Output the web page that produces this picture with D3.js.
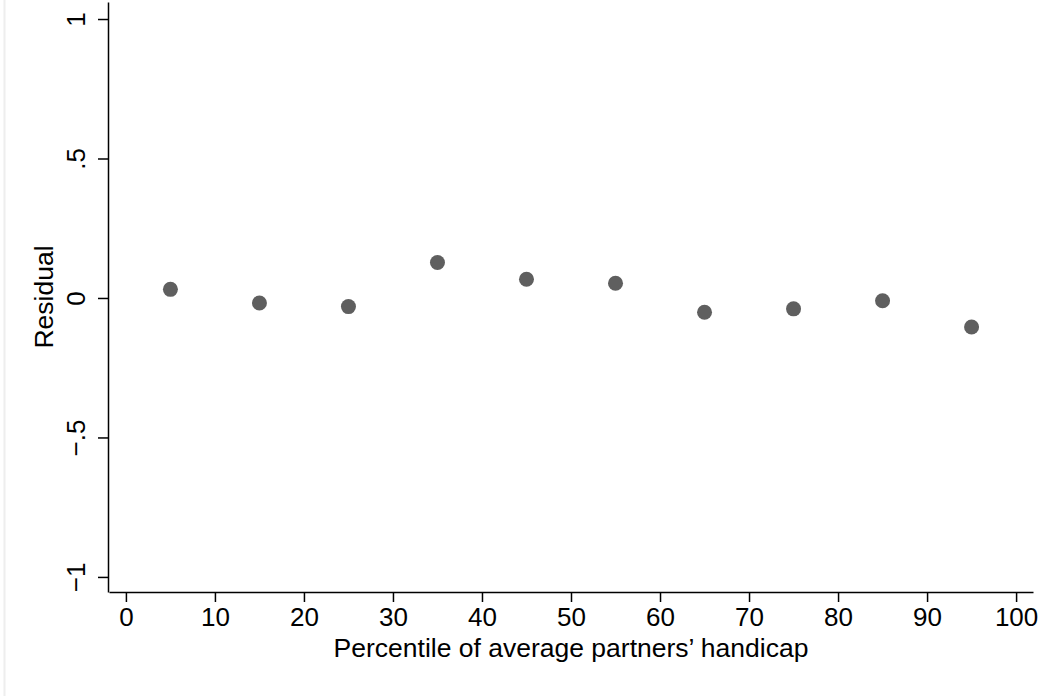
<!DOCTYPE html>
<html>
<head>
<meta charset="utf-8">
<script src="https://cdn.jsdelivr.net/npm/d3@7"></script>
<style>
  body { margin: 0; background: #ffffff; }
  svg { display: block; font-family: "Liberation Sans", Arial, sans-serif; }
</style>
</head>
<body>
<div id="chart"></div>
<script>
// Data
var percentiles = [5, 15, 25, 35, 45, 55, 65, 75, 85, 95];
var residuals = [0.031, -0.018, -0.031, 0.127, 0.067, 0.053, -0.051, -0.039, -0.010, -0.104];
var xTicks = [0, 10, 20, 30, 40, 50, 60, 70, 80, 90, 100];
var yTicks = [-1, -0.5, 0, 0.5, 1];
var yTickLabels = ["\u22121", "\u2212.5", "0", ".5", "1"];

function chartResidual_Draw(ele) {
    ele = "#" + ele;
    d3.select(ele).select("svg").remove();

    var w = 1057;
    var h = 696;

    var svg = d3.select(ele)
        .append("svg")
        .attr("width", w)
        .attr("height", h);

    // faint border at the left of the graph region
    svg.append("rect")
        .attr("x", 3.5)
        .attr("y", 0)
        .attr("width", 2)
        .attr("height", h)
        .attr("fill", "#eeeeee");

    // Scales
    var x = d3.scaleLinear().domain([-1.9, 101.9]).range([109, 1033]);
    var y = d3.scaleLinear().domain([-1.054, 1.061]).range([592, 2]);

    // X axis
    var gx = svg.append("g")
        .attr("transform", "translate(0,592)")
        .call(d3.axisBottom(x)
            .tickValues(xTicks)
            .tickSize(10)
            .tickSizeOuter(0)
            .tickPadding(6)
            .tickFormat(d3.format("d")));
    gx.selectAll("text")
        .attr("font-size", "26px")
        .attr("fill", "#000");

    // Y axis
    var gy = svg.append("g")
        .attr("transform", "translate(108,0)")
        .call(d3.axisLeft(y)
            .tickValues(yTicks)
            .tickSize(10)
            .tickSizeOuter(0)
            .tickFormat(function(d, i) { return yTickLabels[i]; }));
    gy.selectAll("text")
        .attr("font-size", "26px")
        .attr("fill", "#000")
        .attr("text-anchor", "middle")
        .attr("transform", "rotate(-90)")
        .attr("x", 0)
        .attr("y", -23)
        .attr("dy", 0);

    svg.selectAll(".domain, .tick line")
        .attr("stroke", "#000")
        .attr("stroke-width", 1.5);

    // Axis titles
    svg.append("text")
        .attr("x", 571)
        .attr("y", 657)
        .attr("text-anchor", "middle")
        .attr("font-size", "26.5px")
        .attr("fill", "#000")
        .text("Percentile of average partners\u2019 handicap");

    svg.append("text")
        .attr("transform", "translate(53,297) rotate(-90)")
        .attr("text-anchor", "middle")
        .attr("font-size", "26.5px")
        .attr("fill", "#000")
        .text("Residual");

    // Points
    svg.selectAll(".dot")
        .data(percentiles)
        .enter()
        .append("circle")
        .attr("class", "dot")
        .attr("cx", function(d) { return x(d); })
        .attr("cy", function(d, i) { return y(residuals[i]); })
        .attr("r", 7.5)
        .attr("fill", "#5f5f5f");
}

chartResidual_Draw("chart");
</script>
</body>
</html>
